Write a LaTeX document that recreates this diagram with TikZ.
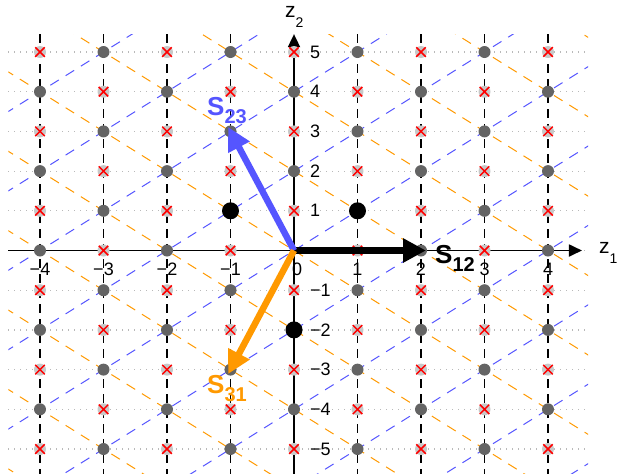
\documentclass[tikz,border=0pt]{standalone}
\usepackage{fontspec}
\setmainfont{Liberation Sans}
\usetikzlibrary{arrows.meta,shapes.misc}
\definecolor{WtBlue}{RGB}{85,85,255}
\definecolor{WtOrange}{RGB}{255,153,0}
\definecolor{DotGray}{RGB}{100,100,100}
\definecolor{CrossGray}{RGB}{200,200,200}
\tikzset{
  gdot/.style={circle,fill=DotGray,inner sep=0pt,minimum size=12pt},
  bigdot/.style={circle,fill=black,inner sep=0pt,minimum size=17pt},
  xbg/.style={circle,fill=CrossGray,inner sep=0pt,minimum size=12pt},
  xmark/.style={cross out,draw=red,line width=1.5pt,inner sep=0pt,minimum size=8pt},
  griddots/.style={draw=gray!55,line width=1.2pt,dash pattern=on 1.2pt off 4.8pt},
  vline/.style={draw=black,line width=1.3pt,dash pattern=on 9pt off 6pt},
  bline/.style={draw=WtBlue,line width=1pt,dash pattern=on 10pt off 8pt},
  oline/.style={draw=WtOrange,line width=1pt,dash pattern=on 10pt off 8pt},
  zaxis/.style={draw=black,line width=1.8pt,-{Triangle[length=13pt,width=12pt]}},
  rootvec/.style={line width=6.5pt,shorten >=-5pt,-{Triangle[length=23pt,width=23pt]}},
  ticklab/.style={font=\fontsize{18}{18}\selectfont,inner sep=0pt},
  rootlab/.style={anchor=base west,inner sep=0pt},
}
\newcommand{\slab}[1]{{\fontsize{26}{26}\selectfont\bfseries S}\raisebox{-8pt}{\fontsize{20}{20}\selectfont\bfseries #1}}
\newcommand{\zlab}[1]{{\fontsize{21}{21}\selectfont z}\raisebox{-10pt}{\fontsize{14}{14}\selectfont #1}}

\begin{document}
\begin{tikzpicture}[x=63.5pt,y=39.7pt]
    \useasboundingbox (-4.630,-5.605) rectangle (5.118,6.310);
    % grid lines
    \foreach \y in {-5,...,5}
      \draw[griddots] (-4.5,\y) -- (4.63,\y);
    \foreach \x in {-4,-3,-2,-1,1,2,3,4}
      \draw[vline] (\x,5.45) -- (\x,-5.7);
    \begin{scope}
      \clip (-4.5,-5.7) rectangle (4.63,5.45);
      \foreach \c in {-14,-12,...,14} {
        \draw[bline] (-6,\c-6) -- (6,\c+6);
        \draw[oline] (-6,\c+6) -- (6,\c-6);
      }
    \end{scope}
    % axes
    \coordinate (O) at (0,0);
    \coordinate (xl) at (-4.5,0);
    \coordinate (xr) at (4.535,0);
    \coordinate (yb) at (0,-5.7);
    \coordinate (yt) at (0,5.45);
    \draw[zaxis] (xl) -- (xr);
    \draw[zaxis] (yb) -- (yt);
    % lattice
    \foreach \x in {-4,...,4}
      \foreach \y in {-5,...,5} {
        \pgfmathtruncatemacro\odd{mod(\x+\y+20,2)}
        \pgfmathtruncatemacro\atO{abs(\x)+abs(\y)}
        \ifnum\odd=1
          \node[xbg] (bg\x\y) at (\x,\y) {};
          \node[xmark] (pt\x\y) at (\x,\y) {};
        \else
          \ifnum\atO>0
            \node[gdot] (pt\x\y) at (\x,\y) {};
          \fi
        \fi
      }
    \node[bigdot] (w1) at (1,1) {};
    \node[bigdot] (w2) at (-1,1) {};
    \node[bigdot] (w3) at (0,-2) {};
    % roots
    \coordinate (s12) at (2,0);
    \coordinate (s23) at (-1,3);
    \coordinate (s31) at (-1,-3);
    \draw[rootvec,black] (O) -- (s12);
    \draw[rootvec,WtBlue] (O) -- (s23);
    \draw[rootvec,WtOrange] (O) -- (s31);
    \node[rootlab] (l12) at (2.22,-0.315) {\slab{12}};
    \node[rootlab,text=WtBlue] (l23) at (-1.37,3.41) {\slab{23}};
    \node[rootlab,text=WtOrange] (l31) at (-1.37,-3.59) {\slab{31}};
    % tick labels
    \foreach \x/\t in {-4/−4,-3/−3,-2/−2,-1/−1,1/1,2/2,3/3,4/4}
      \node[ticklab] (lx\x) at (\x,-0.465) {\t};
    \node[ticklab] (lx0) at (0.05,-0.465) {0};
    \foreach \y/\t in {-5/−5,-4/−4,-3/−3,-2/−2,-1/−1,1/1,2/2,3/3,4/4,5/5}
      \node[ticklab,anchor=west] (ly\y) at (0.25,\y) {\t};
    \node[rootlab] (z1) at (4.80,-0.063) {\zlab{1}};
    \node[rootlab] (z2) at (-0.142,5.88) {\zlab{2}};
\end{tikzpicture}
\end{document}
